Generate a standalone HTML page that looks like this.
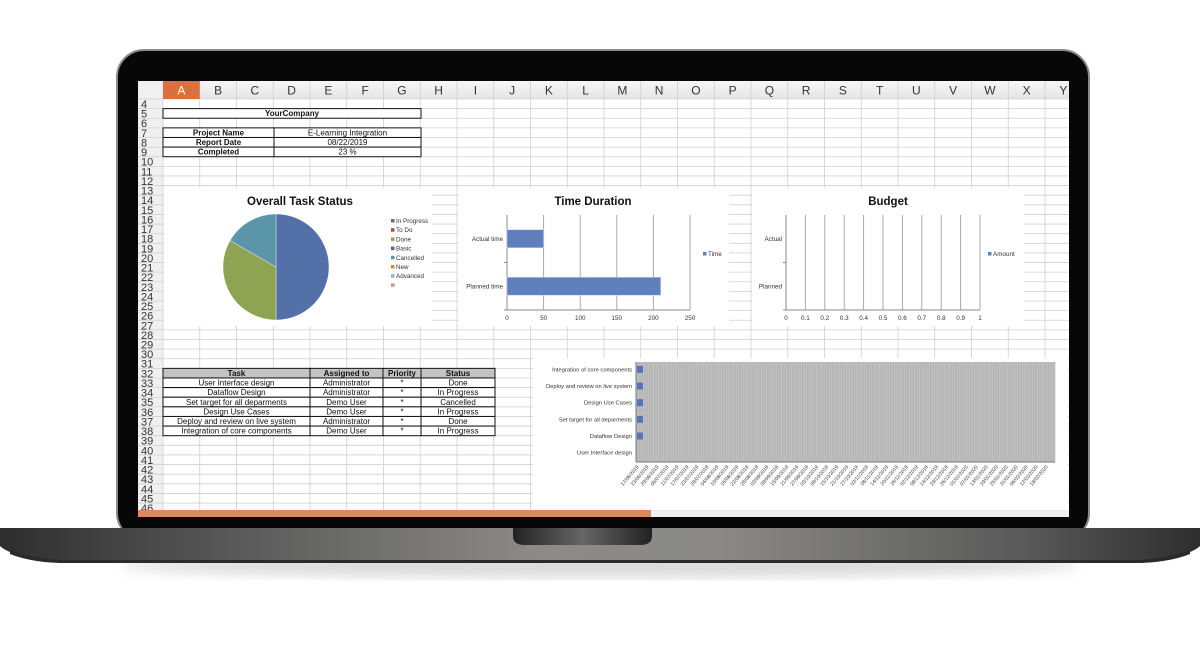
<!DOCTYPE html>
<html><head><meta charset="utf-8"><style>
html,body{margin:0;padding:0;background:#fff;width:1200px;height:646px;overflow:hidden}
svg{display:block;font-family:"Liberation Sans","DejaVu Sans",sans-serif}
</style></head><body>
<svg id="s" width="1200" height="646" viewBox="0 0 1200 646" xmlns="http://www.w3.org/2000/svg">
<defs>
<linearGradient id="base" x1="0" x2="1" y1="0" y2="0">
<stop offset="0" stop-color="#2e2e2e"/><stop offset="0.2" stop-color="#5a5a5a"/><stop offset="0.45" stop-color="#8c8b88"/><stop offset="0.6" stop-color="#8a8986"/><stop offset="0.85" stop-color="#5a5a5a"/><stop offset="1" stop-color="#2e2e2e"/></linearGradient>
<linearGradient id="notch" x1="0" x2="1"><stop offset="0" stop-color="#222"/><stop offset="0.5" stop-color="#666"/><stop offset="1" stop-color="#222"/></linearGradient>
<linearGradient id="hdr" x1="0" x2="0" y1="0" y2="1"><stop offset="0" stop-color="#f7f7f7"/><stop offset="1" stop-color="#e4e4e4"/></linearGradient>
<filter id="blur"><feGaussianBlur stdDeviation="6"/></filter>
<clipPath id="scr"><rect x="138" y="81" width="931" height="436"/></clipPath>
</defs>
<ellipse cx="600" cy="566" rx="480" ry="12" fill="#9a9a9a" opacity="0.35" filter="url(#blur)"/>
<rect x="117" y="50" width="972" height="490" rx="27" fill="#070707" stroke="#8a8a8a" stroke-width="2"/>
<g id="screen" clip-path="url(#scr)">
<rect x="138" y="81" width="931" height="436" fill="#fff"/>
<g id="grid"></g>
<g id="charts"></g>
</g>
<path d="M0 528 L1200 528 L1200 546 Q1190 556 1150 560 L50 560 Q10 556 0 546 Z" fill="url(#base)"/>
<path d="M10 550 Q30 558 60 560 L1140 560 Q1170 558 1190 550 L1190 554 Q1170 562 1140 563 L60 563 Q30 562 10 554Z" fill="#2a2a2a"/>
<path d="M513 528 L652 528 L652 536 Q652 545 640 545 L525 545 Q513 545 513 536 Z" fill="url(#notch)"/>
</svg>
<script>
// ---------- chart data ----------
const pieLabels = ["In Progress","To Do","Done","Basic","Cancelled","New","Advanced",""];
const pieValues = [3,0,2,0,1,0,0,0];
const pieColors = ["#5470a8","#a84a48","#8fa452","#6e5896","#5b95aa","#d8883e","#97aed4","#d09590"];
const timeCats = ["Actual time","Planned time"];
const timeValues = [50,210];
const timeTicks = [0,50,100,150,200,250];
const budgetCats = ["Actual","Planned"];
const budgetValues = [0,0];
const budgetTicks = [0,0.1,0.2,0.3,0.4,0.5,0.6,0.7,0.8,0.9,1];
const ganttTasks = ["Integration of core components","Deploy and review on live system","Design Use Cases","Set target for all deparments","Dataflow Design","User Interface design"];
const ganttDur = [1,1,1,1,1,0];
const ganttTicks = ["17/06/2019","23/06/2019","29/06/2019","05/07/2019","11/07/2019","17/07/2019","23/07/2019","29/07/2019","04/08/2019","10/08/2019","16/08/2019","22/08/2019","28/08/2019","03/09/2019","09/09/2019","15/09/2019","21/09/2019","27/09/2019","03/10/2019","09/10/2019","15/10/2019","21/10/2019","27/10/2019","02/11/2019","08/11/2019","14/11/2019","20/11/2019","26/11/2019","02/12/2019","08/12/2019","14/12/2019","20/12/2019","26/12/2019","01/01/2020","07/01/2020","13/01/2020","19/01/2020","25/01/2020","31/01/2020","06/02/2020","12/02/2020","18/02/2020"];

const NS="http://www.w3.org/2000/svg";
function mk(parent,tag,attrs,txt){const e=document.createElementNS(NS,tag);for(const k in attrs)e.setAttribute(k,attrs[k]);if(txt!==undefined)e.textContent=txt;parent.appendChild(e);return e;}
const grid=document.getElementById('grid'), charts=document.getElementById('charts');

// ---------- spreadsheet grid ----------
const colX0=163, colW=36.75, rowY0=99, rowH=9.62, L=138, R=1069, T=81, B=512;
const cols="ABCDEFGHIJKLMNOPQRSTUVWXY".split("");
mk(grid,'rect',{x:L,y:T,width:R-L,height:18,fill:'url(#hdr)'});
mk(grid,'rect',{x:L,y:T,width:25,height:B-T,fill:'#f0f0f0'});
for(let i=0;i<=43;i++){const y=rowY0+i*rowH;mk(grid,'line',{x1:L,x2:R,y1:y,y2:y,stroke:'#d0d0d0','stroke-width':0.8});}
for(let i=0;i<=25;i++){const x=colX0+i*colW;mk(grid,'line',{x1:x,x2:x,y1:T,y2:B,stroke:'#d0d0d0','stroke-width':0.8});}
cols.forEach((c,i)=>{
  const x=colX0+i*colW;
  if(i===0){const r=mk(grid,'rect',{x:x,y:T,width:colW,height:18,fill:'#d8703f'});}
  const t=mk(grid,'text',{x:x+colW/2,y:T+13.5,'text-anchor':'middle','font-size':12,fill:i===0?'#fff':'#333'},c);
  
  
});
for(let r=4;r<=46;r++){const y=rowY0+(r-4)*rowH;const t=mk(grid,'text',{x:141,y:y+9,'font-size':11,fill:'#333'},String(r));
  
  }
mk(grid,'rect',{x:L,y:510,width:R-L,height:7,fill:'#eeeeee'});
const sb=mk(grid,'rect',{x:L,y:510,width:513,height:7,fill:'#d98a64'});



function rowTop(r){return rowY0+(r-4)*rowH;}
function cell(x,y,w,h,txt,opts){opts=opts||{};mk(grid,'rect',{x:x,y:y,width:w,height:h,fill:opts.fill||'#fff',stroke:'#111','stroke-width':1});
  if(txt)mk(grid,'text',{x:x+w/2,y:y+h-2,'text-anchor':'middle','font-size':8,'font-weight':opts.bold?'bold':'normal',fill:'#111'},txt);}
cell(163,rowTop(5),258,rowH,"YourCompany",{bold:true});
const info=[["Project Name","E-Learning Integration"],["Report Date","08/22/2019"],["Completed","23 %"]];
info.forEach((p,i)=>{const y=rowTop(7+i);cell(163,y,111,rowH,p[0],{bold:true});cell(274,y,147,rowH,p[1]);});
const tHead=["Task","Assigned to","Priority","Status"], tX=[163,310,383,421,495];
const tRows=[["User Interface design","Administrator","*","Done"],["Dataflow Design","Administrator","*","In Progress"],["Set target for all deparments","Demo User","*","Cancelled"],["Design Use Cases","Demo User","*","In Progress"],["Deploy and review on live system","Administrator","*","Done"],["Integration of core components","Demo User","*","In Progress"]];
tHead.forEach((h,i)=>cell(tX[i],rowTop(32),tX[i+1]-tX[i],rowH,h,{bold:true,fill:'#c3c3c3'}));
tRows.forEach((row,j)=>row.forEach((v,i)=>cell(tX[i],rowTop(33+j),tX[i+1]-tX[i],rowH,v)));

// ---------- Pie chart ----------
const pie=mk(charts,'g',{});


mk(pie,'rect',{x:164,y:188,width:268,height:138,fill:'#fff'});
mk(pie,'text',{x:300,y:205,'text-anchor':'middle','font-size':11.5,'font-weight':'bold',fill:'#111'},"Overall Task Status");
const cx=276,cy=267,rad=53,tot=pieValues.reduce((a,b)=>a+b,0);
let ang=-Math.PI/2;
pieValues.forEach((v,i)=>{if(!v)return;const a2=ang+v/tot*2*Math.PI;
  const p=mk(pie,'path',{d:`M${cx} ${cy} L${cx+rad*Math.cos(ang)} ${cy+rad*Math.sin(ang)} A${rad} ${rad} 0 ${a2-ang>Math.PI?1:0} 1 ${cx+rad*Math.cos(a2)} ${cy+rad*Math.sin(a2)} Z`,fill:pieColors[i],stroke:'#fff','stroke-width':0.4});
  
  
  ang=a2;});
pieLabels.forEach((l,i)=>{const y=223+i*9.2;mk(pie,'rect',{x:391,y:y-4,width:3.5,height:3.5,fill:pieColors[i]});
  const t=mk(pie,'text',{x:396,y:y,'font-size':6.3,fill:'#333'},l);
  
  });

// ---------- horizontal bar charts ----------
function hbar(g,x0,x1,top,bot,cats,vals,ticks,title,tx,legend,lx){
  mk(g,'text',{x:tx,y:205,'text-anchor':'middle','font-size':11.5,'font-weight':'bold',fill:'#111'},title);
  const mx=ticks[ticks.length-1],sx=v=>x0+(x1-x0)*v/mx;
  ticks.forEach(t=>{const x=sx(t);mk(g,'line',{x1:x,x2:x,y1:top,y2:bot,stroke:'#a0a0a0','stroke-width':0.9});
    mk(g,'text',{x:x,y:bot+10,'text-anchor':'middle','font-size':6.3,fill:'#333'},String(t));});
  mk(g,'line',{x1:x0,x2:x1,y1:bot,y2:bot,stroke:'#888','stroke-width':0.9});
  mk(g,'line',{x1:x0,x2:x0,y1:top,y2:bot,stroke:'#888','stroke-width':0.9});
  const bh=(bot-top)/cats.length;
  cats.forEach((c,i)=>{const yc=top+bh*(i+0.5);
    mk(g,'text',{x:x0-4,y:yc+2,'text-anchor':'end','font-size':6.3,fill:'#333'},c);
    if(vals[i]>0){const b=mk(g,'rect',{x:x0,y:yc-9,width:sx(vals[i])-x0,height:18,fill:'#5f7fbd',stroke:'#c8d4ee','stroke-width':0.6});
      
      }
    mk(g,'line',{x1:x0-3,x2:x0,y1:top+bh*(i+1),y2:top+bh*(i+1),stroke:'#888'});});
  mk(g,'rect',{x:lx,y:252,width:3.5,height:3.5,fill:'#5f7fbd'});
  mk(g,'text',{x:lx+5,y:256,'font-size':6.3,fill:'#333'},legend);
}
const tg=mk(charts,'g',{});


mk(tg,'rect',{x:458,y:188,width:271,height:138,fill:'#fff'});
hbar(tg,507,690,215,310,timeCats,timeValues,timeTicks,"Time Duration",593,"Time",703);
const bg=mk(charts,'g',{});


mk(bg,'rect',{x:752,y:188,width:272,height:138,fill:'#fff'});
hbar(bg,786,980,215,310,budgetCats,budgetValues,budgetTicks,"Budget",888,"Amount",988);

// ---------- Gantt chart ----------
const gg=mk(charts,'g',{});


mk(gg,'rect',{x:533,y:358,width:535,height:152,fill:'#fff'});
const gx0=636,gx1=1055,gt=362,gb=462;
mk(gg,'rect',{x:gx0,y:gt,width:gx1-gx0,height:gb-gt,fill:'#c2c2c2'});
for(let i=0;i<=ganttTicks.length*6;i++){const x=gx0+(gx1-gx0)*i/(ganttTicks.length*6);mk(gg,'line',{x1:x,x2:x,y1:gt,y2:gb,stroke:'#a8a8a8','stroke-width':0.5});}
mk(gg,'line',{x1:gx0,x2:gx1,y1:gb,y2:gb,stroke:'#777'});
mk(gg,'line',{x1:gx0,x2:gx0,y1:gt,y2:gb,stroke:'#777'});
const gsx=d=>(gx1-gx0)*d/(ganttTicks.length*6);
const gbh=(gb-gt)/ganttTasks.length;
ganttTasks.forEach((t,i)=>{const yc=gt+gbh*(i+0.5)-1;
  mk(gg,'text',{x:gx0-4,y:yc+2,'text-anchor':'end','font-size':5.8,fill:'#333'},t);
  if(ganttDur[i]>0){const b=mk(gg,'rect',{x:gx0+1,y:yc-3.5,width:Math.max(gsx(ganttDur[i]),6),height:7,fill:'#5a72bd'});
    
    }});
ganttTicks.forEach((d,i)=>{const x=gx0+(gx1-gx0)*i/ganttTicks.length+3;
  mk(gg,'text',{x:x,y:gb+5,'text-anchor':'end','font-size':5,fill:'#333',transform:`rotate(-50 ${x} ${gb+5})`},d);});
</script>
</body></html>
